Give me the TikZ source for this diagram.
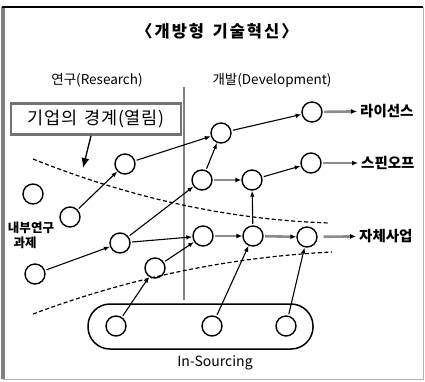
\documentclass[tikz,border=0pt]{standalone}
\usepackage{fontspec}
\setmainfont{Noto Sans CJK KR}
\usetikzlibrary{arrows.meta}
\begin{document}
\begin{tikzpicture}[x=1pt,y=-1pt,
  dot/.style={draw, circle, line width=1.4pt, minimum size=20pt, inner sep=0pt},
  arr/.style={line width=1.1pt, -{Latex[length=6pt,width=4.5pt]}, shorten <=1.5pt},
  garr/.style={line width=2.6pt, draw=black!45, -{Latex[length=6pt,width=5pt,color=black]}, shorten <=1.5pt},
  bnd/.style={line width=1.2pt, dash pattern=on 4pt off 2.5pt},
  lbl/.style={font=\bfseries\fontsize{14.5}{16}\selectfont, anchor=west, inner sep=0pt}]
\useasboundingbox (0,0) rectangle (425,381);
% frame
\draw[black!30, line width=0.8pt] (3,7) rectangle (423,379);
\draw[black!50, line width=3.5pt] (3,7) -- (3,379);
\draw[black, line width=1.6pt] (2,7) -- (423,7);
% title and headers
\node[font=\bfseries\fontsize{16.5}{18}\selectfont\addfontfeature{LetterSpace=12}] (title) at (217,31) {〈개방형 \,기술혁신〉};
\node[font=\fontsize{13.5}{15}\selectfont] (res) at (97,80) {연구(Research)};
\node[font=\fontsize{13.5}{15}\selectfont] (dev) at (272,80) {개발(Development)};
% vertical divider
\draw[black!50, line width=2.6pt] (184,87) -- (184,300);
% boundary box
\node[draw=black!55, line width=2.6pt, minimum width=170pt, minimum height=31pt, inner sep=0pt,
      font=\fontsize{17.5}{19}\selectfont\addfontfeature{LetterSpace=4}] (box) at (96,119) {기업의 \,경계(열림)};
\coordinate (bt) at (83,168);
\draw[line width=1.3pt, -{Latex[length=10pt,width=8pt]}] ([xshift=-5pt]box.south) -- (bt);
% dashed boundaries
\draw[bnd] (33,159) .. controls (133,199) and (232,220) .. (330,223);
\draw[bnd] (33,314) .. controls (132,277) and (232,257) .. (332,252);
% in-sourcing pool
\node[draw, line width=1.5pt, rounded corners=22pt, minimum width=225pt, minimum height=45pt] (pool) at (200.5,326.5) {};
\node[font=\fontsize{14}{16}\selectfont] (ins) at (215,363) {In-Sourcing};
% circles
\node[dot] (A) at (125,164) {};
\node[dot] (B) at (221,133) {};
\node[dot] (C) at (312,112) {};
\node[dot] (D) at (202,180) {};
\node[dot] (E) at (252,180) {};
\node[dot] (F) at (311,163) {};
\node[dot] (G) at (33,194) {};
\node[dot] (H) at (70,217) {};
\node[dot] (I) at (120,243) {};
\node[dot] (J) at (35,274) {};
\node[dot] (K) at (203,236) {};
\node[dot] (L) at (253,236) {};
\node[dot] (M) at (307,237) {};
\node[dot] (N) at (155,268) {};
\node[dot] (P) at (116,326) {};
\node[dot] (Q) at (212,326) {};
\node[dot] (R) at (286,326) {};
% labels
\node[lbl] (lic) at (360,111) {라이선스};
\node[lbl] (spin) at (361,163) {스핀오프};
\node[lbl] (own) at (359,236) {자체사업};
\node[font=\bfseries\fontsize{12.5}{14}\selectfont, inner sep=0pt] (intl1) at (31,228) {내부연구};
\node[font=\bfseries\fontsize{12.5}{14}\selectfont, inner sep=0pt] (intl2) at (25,243) {과제};
% connectors
\draw[arr] (A) -- (B);
\draw[arr] (B) -- (C);
\draw[arr] (D) -- (B);
\draw[arr] (E) -- (F);
\draw[arr] (L) -- (E);
\draw[arr] (H) -- (A);
\draw[arr] (I) -- (D);
\draw[arr] (I) -- (K);
\draw[arr] (J) -- (I);
\draw[arr] (N) -- (K);
\draw[arr] (P) -- (N);
\draw[arr] (Q) -- (L);
\draw[arr] (R) -- (M);
\draw[garr] (D) -- (E);
\draw[garr] (K) -- (L);
\draw[garr] (L) -- (M);
\draw[garr, shorten >=3pt] (C) -- (lic);
\draw[garr, shorten >=3pt] (F) -- (spin);
\draw[garr, shorten <=6pt, shorten >=3pt] (M) -- (own);
\end{tikzpicture}
\end{document}
